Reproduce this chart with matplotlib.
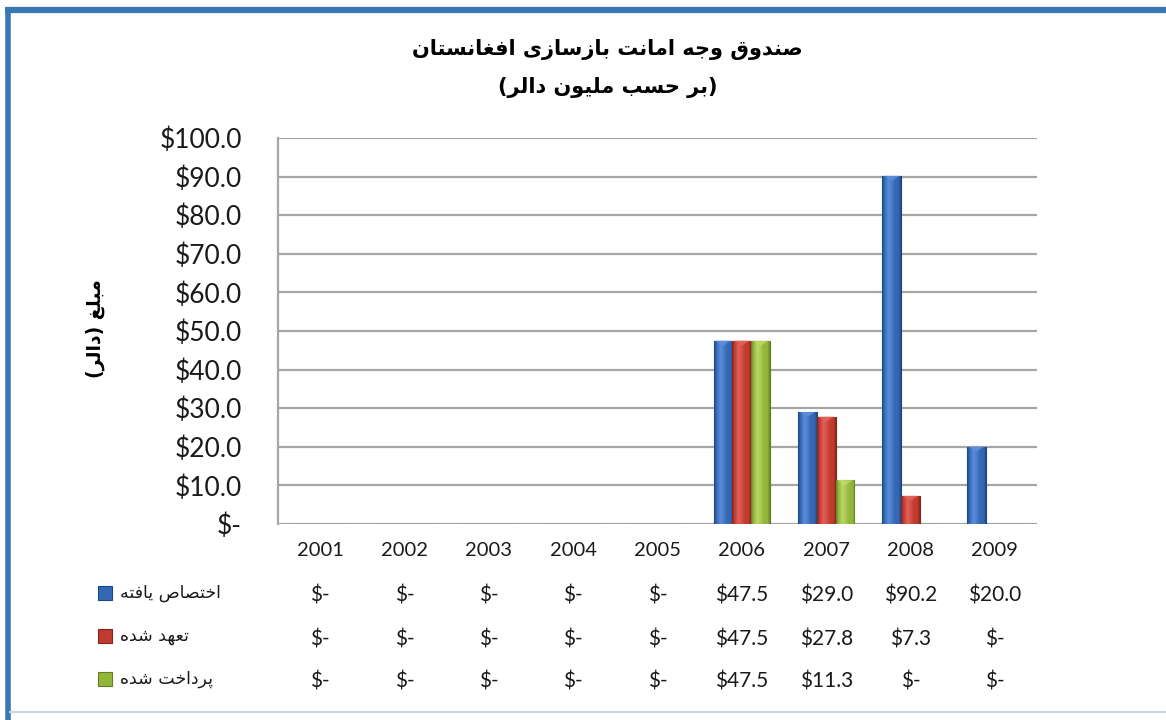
import matplotlib
matplotlib.use("Agg")
import matplotlib.pyplot as plt
import numpy as np
from matplotlib.colors import LinearSegmentedColormap
from matplotlib.lines import Line2D
from matplotlib.patches import Polygon, Rectangle
from matplotlib.transforms import blended_transform_factory

# --- data -------------------------------------------------------------
years = ['2001', '2002', '2003', '2004', '2005', '2006', '2007', '2008', '2009']
allocated = [0, 0, 0, 0, 0, 47.5, 29.0, 90.2, 20.0]
committed = [0, 0, 0, 0, 0, 47.5, 27.8, 7.3, 0]
disbursed = [0, 0, 0, 0, 0, 47.5, 11.3, 0, 0]
series_names = ['اختصاص یافته', 'تعهد شده', 'پرداخت شده']
title_lines = ['صندوق وجه امانت بازسازی افغانستان', '(بر حسب ملیون دالر)']
ylabel_text = 'مبلغ (دالر)'
yticks = [0, 10, 20, 30, 40, 50, 60, 70, 80, 90, 100]

# dark, mid, light shades for the bevelled bars
palettes = [('#1d4582', '#3468b4', '#5b8fdb'),
            ('#80241c', '#c03a2e', '#e2635a'),
            ('#637d22', '#93b63a', '#bcd86a')]

# Arabic presentation forms: isolated, final, initial, medial
FORMS = {
    'ا': ('\uFE8D', '\uFE8E', None, None),
    'ب': ('\uFE8F', '\uFE90', '\uFE91', '\uFE92'),
    'پ': ('\uFB56', '\uFB57', '\uFB58', '\uFB59'),
    'ت': ('\uFE95', '\uFE96', '\uFE97', '\uFE98'),
    'ج': ('\uFE9D', '\uFE9E', '\uFE9F', '\uFEA0'),
    'ح': ('\uFEA1', '\uFEA2', '\uFEA3', '\uFEA4'),
    'خ': ('\uFEA5', '\uFEA6', '\uFEA7', '\uFEA8'),
    'د': ('\uFEA9', '\uFEAA', None, None),
    'ر': ('\uFEAD', '\uFEAE', None, None),
    'ز': ('\uFEAF', '\uFEB0', None, None),
    'س': ('\uFEB1', '\uFEB2', '\uFEB3', '\uFEB4'),
    'ش': ('\uFEB5', '\uFEB6', '\uFEB7', '\uFEB8'),
    'ص': ('\uFEB9', '\uFEBA', '\uFEBB', '\uFEBC'),
    'ع': ('\uFEC9', '\uFECA', '\uFECB', '\uFECC'),
    'غ': ('\uFECD', '\uFECE', '\uFECF', '\uFED0'),
    'ف': ('\uFED1', '\uFED2', '\uFED3', '\uFED4'),
    'ق': ('\uFED5', '\uFED6', '\uFED7', '\uFED8'),
    'ل': ('\uFEDD', '\uFEDE', '\uFEDF', '\uFEE0'),
    'م': ('\uFEE1', '\uFEE2', '\uFEE3', '\uFEE4'),
    'ن': ('\uFEE5', '\uFEE6', '\uFEE7', '\uFEE8'),
    'ه': ('\uFEE9', '\uFEEA', '\uFEEB', '\uFEEC'),
    'و': ('\uFEED', '\uFEEE', None, None),
    'ی': ('\uFBFC', '\uFBFD', '\uFBFE', '\uFBFF'),
}


def rtl(text):
    """Shape Persian letters and put them in visual (left-to-right) order."""
    out = []
    for i, ch in enumerate(text):
        if ch not in FORMS:
            out.append(ch)
            continue
        prev = text[i - 1] if i > 0 else None
        nxt = text[i + 1] if i + 1 < len(text) else None
        join_prev = prev in FORMS and FORMS[prev][2] is not None
        join_next = nxt in FORMS and FORMS[ch][2] is not None
        iso, fin, ini, med = FORMS[ch]
        if join_prev and join_next:
            out.append(med)
        elif join_prev:
            out.append(fin)
        elif join_next:
            out.append(ini)
        else:
            out.append(iso)
    swap = {'(': ')', ')': '('}
    return ''.join(swap.get(c, c) for c in reversed(out))


def money(v):
    return '$-' if v == 0 else f'${v:.1f}'


def bevel_cmap(dark, mid, light):
    return LinearSegmentedColormap.from_list(
        'bev', [(0, dark), (0.12, mid), (0.35, light), (0.7, mid), (0.9, mid), (1, dark)])


fig = plt.figure(figsize=(11.66, 7.2), dpi=100)
ax = fig.add_axes([0.2384, 0.2722, 0.651, 0.5361])

x = np.arange(len(years))
w = 0.222
grad = np.linspace(0, 1, 64).reshape(1, -1)
for k, vals in enumerate([allocated, committed, disbursed]):
    dark, mid, light = palettes[k]
    bars = ax.bar(x + (k - 1) * w, vals, w, color=mid, edgecolor=dark, linewidth=0.8, zorder=3)
    cmap = bevel_cmap(dark, mid, light)
    for p in bars:
        h = p.get_height()
        if h <= 0:
            continue
        x0 = p.get_x()
        pw = p.get_width()
        im = ax.imshow(grad, cmap=cmap, aspect='auto', interpolation='bicubic',
                       extent=(x0, x0 + pw, 0, h), zorder=3.5)
        im.set_clip_path(p)
        tri = Polygon([(x0 + pw * 0.1, h), (x0 + pw * 0.9, h), (x0 + pw * 0.5, h - 1.3)],
                      closed=True, facecolor=light, edgecolor='none', alpha=0.9, zorder=4)
        ax.add_patch(tri)

ax.set_xlim(-0.5, len(years) - 0.5)
ax.set_ylim(0, 100)
ax.set_yticks(yticks)
ax.set_yticklabels([money(v) for v in yticks], family='Lato', fontsize=19, color='#1a1a1a')
ax.set_xticks(x)
ax.set_xticklabels(years, family='Lato', fontsize=14.5, color='#1a1a1a')
ax.tick_params(axis='y', length=0, pad=26)
ax.tick_params(axis='x', length=0, pad=13)
ax.grid(axis='y', color='#a6a6a6', linewidth=1.6, zorder=0)
ax.set_axisbelow(True)
for side in ['top', 'right', 'bottom']:
    ax.spines[side].set_visible(False)
ax.spines['left'].set_color('#a6a6a6')
ax.spines['left'].set_linewidth(1.6)

# title and axis label
fig.text(0.521, 1 - 50 / 720, rtl(title_lines[0]), ha='center', va='center',
         family='DejaVu Sans', fontweight='bold', fontsize=15)
fig.text(0.521, 1 - 88 / 720, rtl(title_lines[1]), ha='center', va='center',
         family='DejaVu Sans', fontweight='bold', fontsize=15)
fig.text(95 / 1166, 1 - 329 / 720, rtl(ylabel_text), rotation=90, ha='center', va='center',
         family='DejaVu Sans', fontweight='bold', fontsize=13.5)

# data table under the chart
trans = blended_transform_factory(ax.transData, fig.transFigure)
row_y = [596, 639, 682]
for k, vals in enumerate([allocated, committed, disbursed]):
    yf = 1 - row_y[k] / 720
    for xi, v in zip(x, vals):
        fig.text(xi, yf, money(v), transform=trans, ha='center', va='center',
                 family='Lato', fontsize=15, color='#1a1a1a')
    dark, mid, light = palettes[k]
    sq_y = yf + 3 / 720
    fig.add_artist(Rectangle((98 / 1166, sq_y - 7 / 720), 14 / 1166, 14 / 720,
                             transform=fig.transFigure, facecolor=mid, edgecolor=dark,
                             linewidth=0.8))
    fig.text(120 / 1166, sq_y, rtl(series_names[k]), ha='left', va='center',
             family='DejaVu Sans', fontsize=12.5, color='#1a1a1a')

# frame around the chart
fig.add_artist(Line2D([5 / 1166, 1], [1 - 10 / 720] * 2, transform=fig.transFigure,
                      color='#3a77b5', linewidth=4.5, solid_capstyle='butt'))
fig.add_artist(Line2D([7.5 / 1166] * 2, [0, 1 - 7 / 720], transform=fig.transFigure,
                      color='#3a77b5', linewidth=4, solid_capstyle='butt'))
fig.add_artist(Line2D([10 / 1166, 1], [1 - 712 / 720] * 2, transform=fig.transFigure,
                      color='#c9d5e6', linewidth=1.5))

fig.savefig('out.png', dpi=100)
